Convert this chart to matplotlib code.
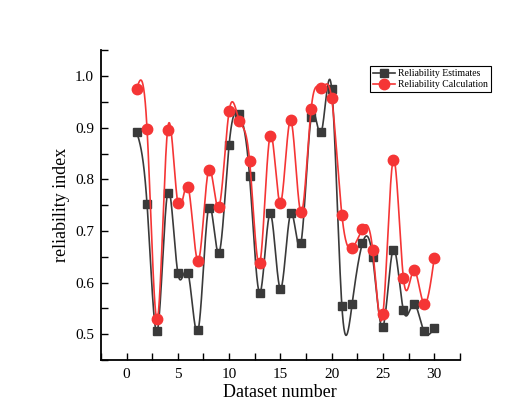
import numpy as np
import matplotlib
matplotlib.use("Agg")
import matplotlib.pyplot as plt
from matplotlib.ticker import MultipleLocator

plt.rcParams['font.family'] = ['Liberation Serif', 'DejaVu Serif']

dataset = list(range(1, 31))
estimates = [0.891, 0.752, 0.506, 0.774, 0.619, 0.619, 0.509, 0.745, 0.657, 0.867,
             0.926, 0.806, 0.580, 0.734, 0.588, 0.734, 0.676, 0.920, 0.892, 0.976,
             0.554, 0.559, 0.676, 0.649, 0.514, 0.664, 0.546, 0.559, 0.506, 0.512]
calculation = [0.976, 0.898, 0.529, 0.896, 0.754, 0.786, 0.642, 0.818, 0.746, 0.932,
               0.914, 0.836, 0.638, 0.885, 0.754, 0.915, 0.736, 0.936, 0.977, 0.957,
               0.731, 0.667, 0.704, 0.664, 0.539, 0.838, 0.608, 0.624, 0.559, 0.647]


def spline(x, y, n=40):
    # natural cubic spline for the smooth connecting line
    x = np.asarray(x, float)
    y = np.asarray(y, float)
    m = len(x)
    h = np.diff(x)
    A = np.zeros((m, m))
    b = np.zeros(m)
    A[0, 0] = A[-1, -1] = 1
    for i in range(1, m - 1):
        A[i, i - 1] = h[i - 1]
        A[i, i] = 2 * (h[i - 1] + h[i])
        A[i, i + 1] = h[i]
        b[i] = 3 * ((y[i + 1] - y[i]) / h[i] - (y[i] - y[i - 1]) / h[i - 1])
    c = np.linalg.solve(A, b)
    xs, ys = [], []
    for i in range(m - 1):
        t = np.linspace(0, h[i], n, endpoint=False)
        bb = (y[i + 1] - y[i]) / h[i] - h[i] * (2 * c[i] + c[i + 1]) / 3
        d = (c[i + 1] - c[i]) / (3 * h[i])
        xs.append(x[i] + t)
        ys.append(y[i] + bb * t + c[i] * t ** 2 + d * t ** 3)
    xs.append([x[-1]])
    ys.append([y[-1]])
    return np.concatenate(xs), np.concatenate(ys)


fig = plt.figure(figsize=(5.31, 4.08), dpi=100)
ax = fig.add_axes([0.190, 0.1176, 0.676, 0.759])

black = '#3a3a3a'
red = '#f53535'

sx, sy = spline(dataset, estimates)
ax.plot(sx, sy, color=black, lw=1.2)
ax.plot(dataset, estimates, 's', color=black, ms=6.3)
sx, sy = spline(dataset, calculation)
ax.plot(sx, sy, color=red, lw=1.2)
ax.plot(dataset, calculation, 'o', color=red, ms=7.5)

h1, = ax.plot([], [], '-s', color=black, ms=6.3, lw=1.2, label='Reliability Estimates')
h2, = ax.plot([], [], '-o', color=red, ms=7.5, lw=1.2, label='Reliability Calculation')
leg = ax.legend(handles=[h1, h2], loc='upper right', bbox_to_anchor=(491 / 531, 1 - 66 / 408),
                bbox_transform=fig.transFigure, fontsize=7, fancybox=False, framealpha=1,
                edgecolor='black', borderpad=0.3, labelspacing=0.25, handlelength=2.3,
                handletextpad=0.3, borderaxespad=0)
leg.get_frame().set_linewidth(0.8)

ax.set_xlim(-2.5, 32.5)
ax.set_ylim(0.45, 1.05)
ax.xaxis.set_major_locator(MultipleLocator(5))
ax.xaxis.set_minor_locator(MultipleLocator(2.5))
ax.yaxis.set_major_locator(MultipleLocator(0.1))
ax.yaxis.set_minor_locator(MultipleLocator(0.05))
ax.yaxis.set_major_formatter(plt.FuncFormatter(lambda v, p: f'{v:.1f}'))
ax.tick_params(which='both', direction='in', length=5, width=1, labelsize=11)
ax.tick_params(axis='x', pad=6)
ax.tick_params(axis='y', pad=5)

for s in ['top', 'right']:
    ax.spines[s].set_visible(False)
for s in ['left', 'bottom']:
    ax.spines[s].set_linewidth(1.3)

ax.set_xlabel('Dataset number', fontsize=13, labelpad=2)
ax.set_ylabel('reliability index', fontsize=13, labelpad=3.5)

fig.savefig('out.png', dpi=100, facecolor='white')
